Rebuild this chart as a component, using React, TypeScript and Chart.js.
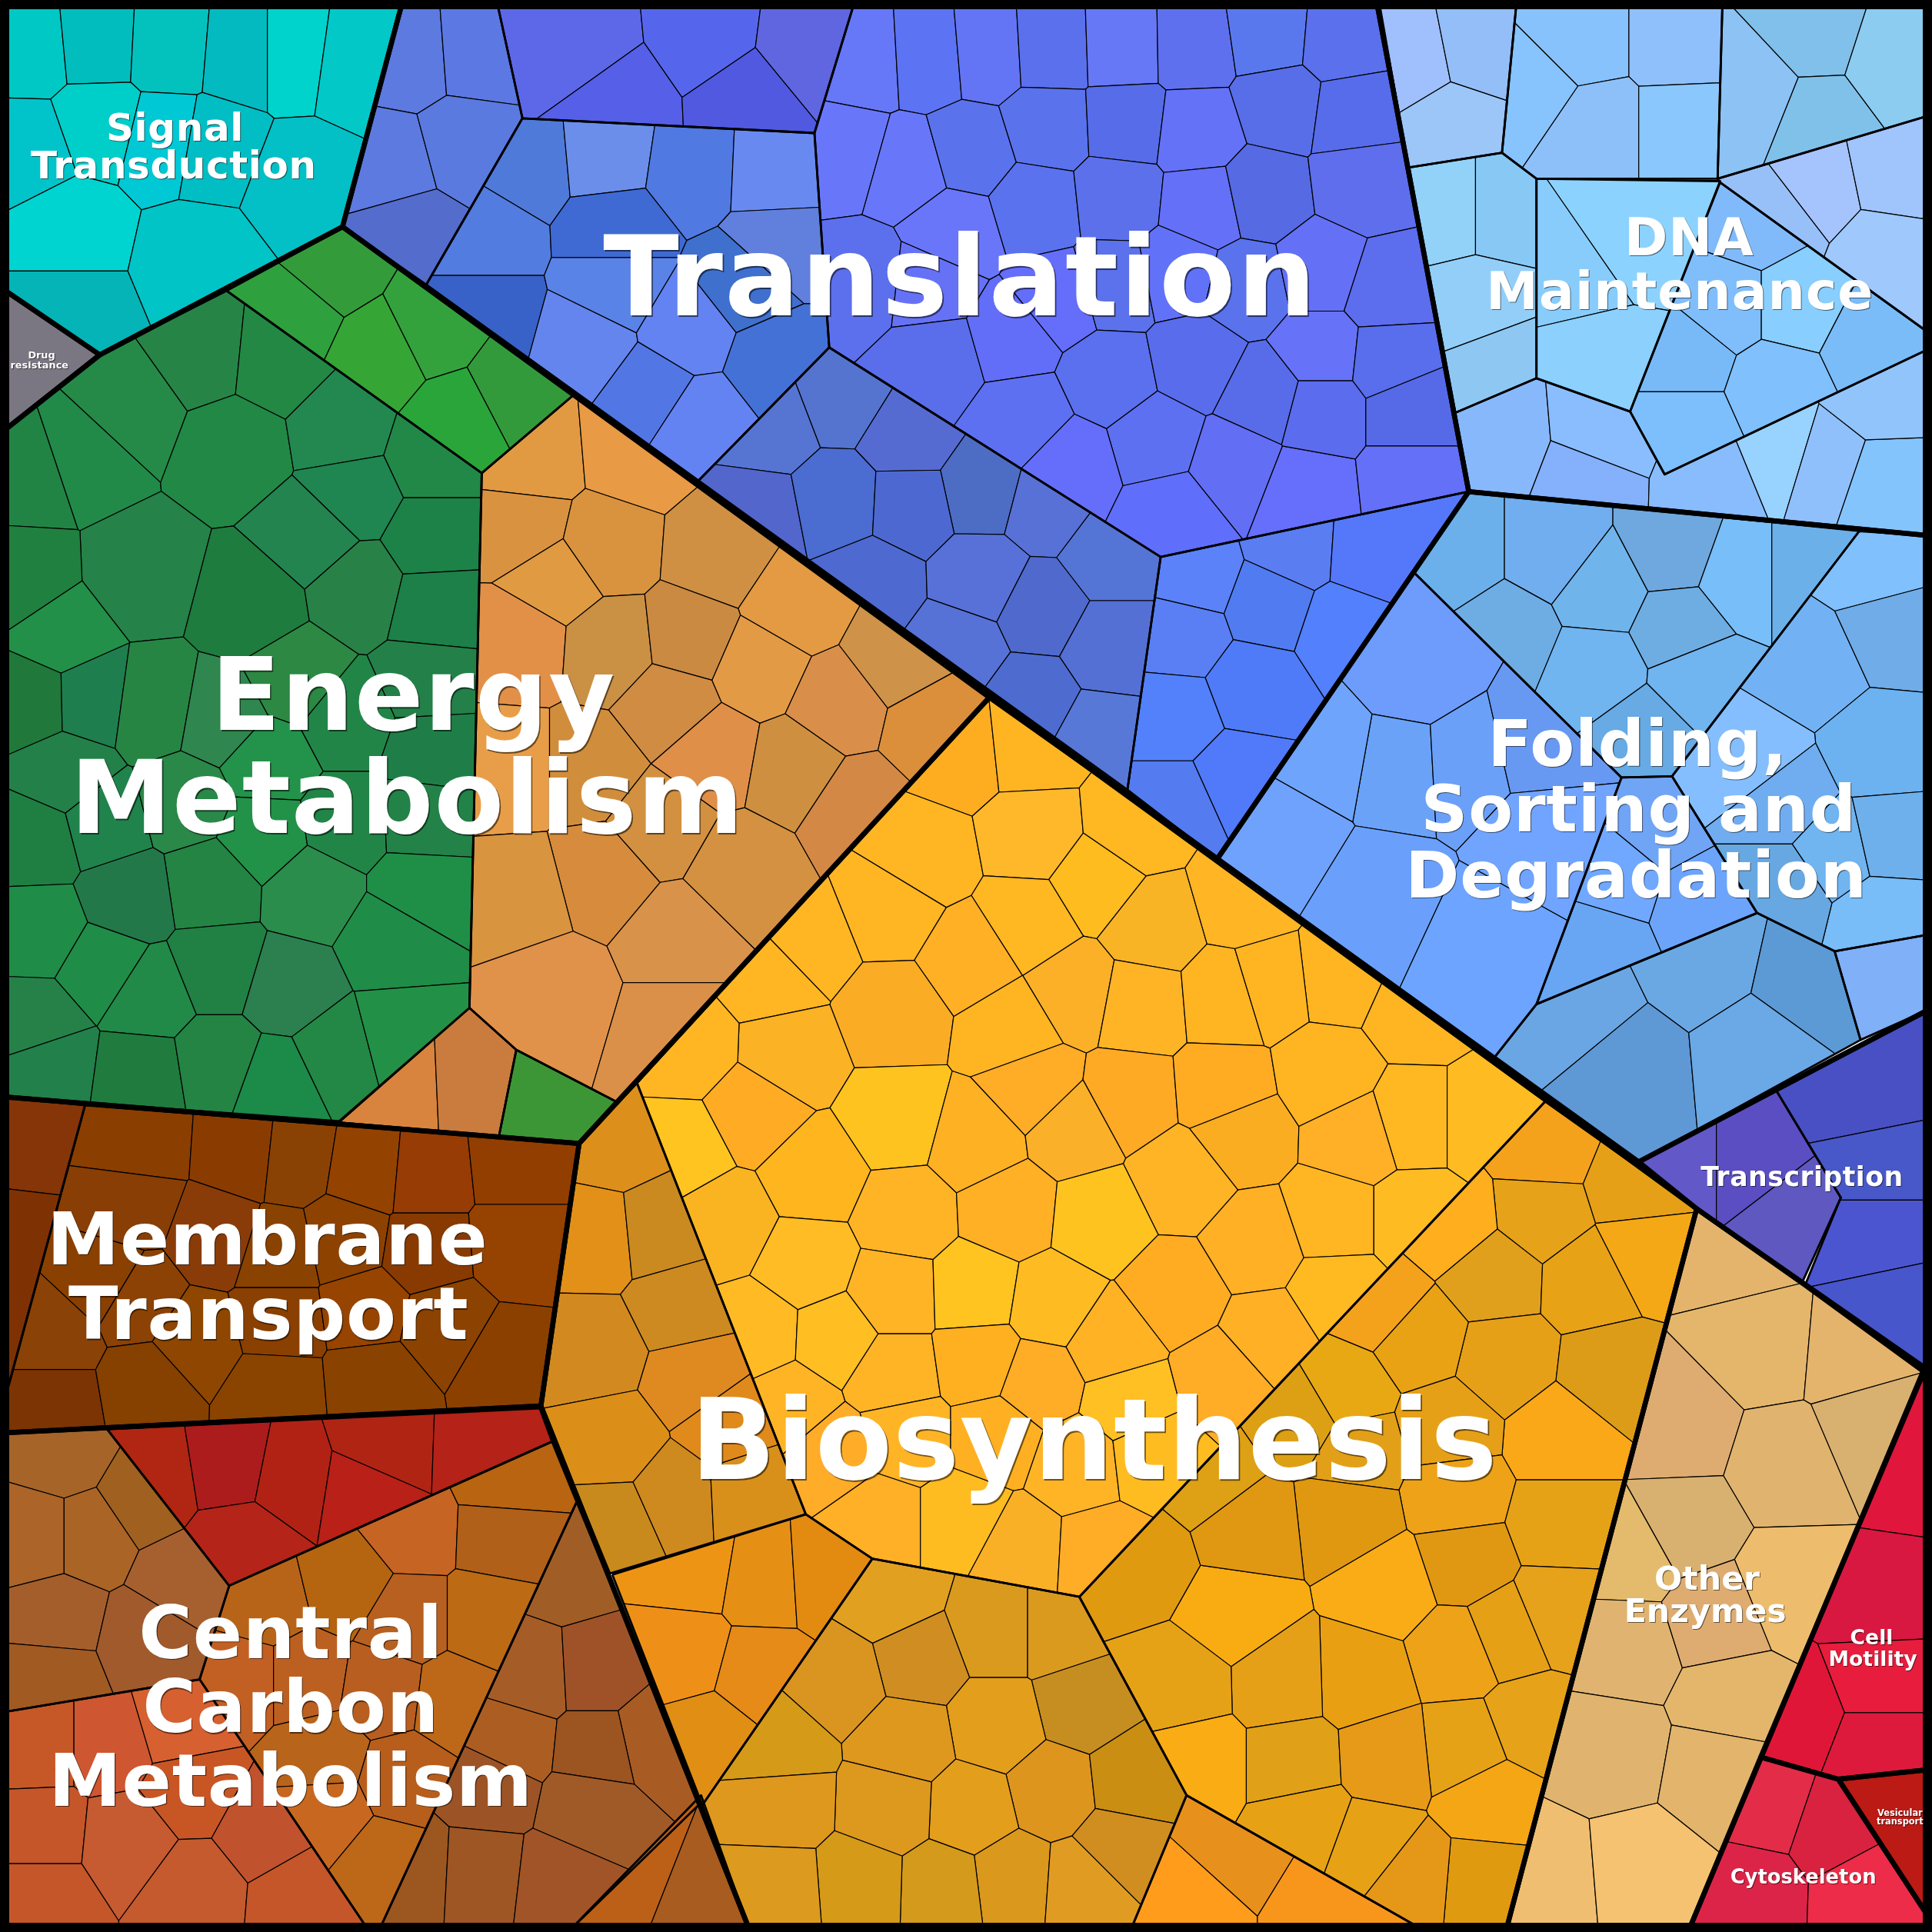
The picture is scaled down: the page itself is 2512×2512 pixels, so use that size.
import React, { useEffect, useRef } from "react";
import { Chart, registerables } from "chart.js";

Chart.register(...registerables);

type P = number[];

// ---- top-level categories (outlines, in map units 0..1568)
const signalPoly: P[] = [[0,0],[327,0],[278,184],[81,288],[0,233]];
const drugPoly: P[] = [[0,233],[81,288],[0,352]];
const translationPoly: P[] = [[327,0],[1117,0],[1192,399],[988,697],[278,184]];
const dnaPoly: P[] = [[1117,0],[1568,0],[1568,435],[1192,399]];
const foldingPoly: P[] = [[1192,399],[1568,435],[1568,818],[1330,943],[988,697]];
const transcriptionPoly: P[] = [[1330,943],[1568,818],[1568,1118],[1465,1043],[1377,981]];
const energyPoly: P[] = [[0,352],[81,288],[278,184],[803,566],[470,928],[0,890]];
const membranePoly: P[] = [[0,890],[470,928],[439,1141],[0,1163]];
const carbonPoly: P[] = [[0,1163],[439,1141],[609,1568],[0,1568]];
const biosynthesisPoly: P[] = [[803,566],[988,697],[1377,981],[1222,1568],[609,1568],[439,1141],[470,928]];
const otherPoly: P[] = [[1377,981],[1562,1110],[1370,1568],[1222,1568]];
const motilityPoly: P[] = [[1562,1112],[1568,1117],[1568,1436],[1492,1444],[1429,1426]];
const cytoskeletonPoly: P[] = [[1429,1426],[1492,1444],[1568,1560],[1568,1568],[1370,1568]];
const vesicularPoly: P[] = [[1492,1444],[1568,1436],[1568,1560]];

// ---- sub-groups: outline, cell centres, cell colours
const signalSites: P[] = [[25,40],[78,35],[137,38],[197,43],[237,43],[287,50],[23,120],[80,100],[133,113],[173,120],[243,147],[57,187],[160,210],[57,253]];
const signalColors = ["#00C8C4","#02BDBD","#03C2BE","#02BAC0","#00D2CC","#02C8C8","#00C4CA","#00CEC8","#00C8D4","#00BEC4","#02C0C6","#00D4D0","#00C4C6","#04B4B6"];

const drugSites: P[] = [[27,292]];
const drugColors = ["#7A7782"];

const t1Poly: P[] = [[327,0],[278,184],[346,231],[424,96],[403,0]];
const t1Sites: P[] = [[333,47],[387,43],[317,133],[377,117],[333,190]];
const t1Colors = ["#5D7AE0","#5C78E2","#5C7ADF","#5B7ADF","#546CCC"];

const t2Poly: P[] = [[403,0],[694,0],[661,108],[424,96]];
const t2Sites: P[] = [[470,40],[575,30],[652,40],[500,82],[607,77]];
const t2Colors = ["#5D68E8","#5666EC","#5F66E0","#555FE8","#5059E0"];

const t3Poly: P[] = [[424,96],[661,108],[673,282],[567,390],[346,231]];
const t3Sites: P[] = [[427,133],[493,127],[561,137],[628,140],[393,190],[500,185],[631,200],[604,230],[393,257],[500,233],[477,280],[557,267],[631,293],[527,317],[567,343]];
const t3Colors = ["#4F7ADA","#6A8EEA","#5079E2","#688AF0","#527CDF","#3F6AD4","#617FDC","#3F70CE","#3962C8","#5A83E8","#6585EE","#6383F2","#4471D5","#5277E5","#6483F3"];

const t4Poly: P[] = [[694,0],[1117,0],[1192,399],[942,452],[673,282],[661,108]];
const t4Sites: P[] = [[701,50],[754,47],[801,43],[853,40],[911,38],[968,37],[1030,28],[1088,33],[687,123],[737,137],[787,123],[851,103],[914,100],[971,107],[1040,85],[1098,93],[701,227],[774,187],[841,167],[907,160],[977,167],[1024,157],[1105,147],[754,233],[858,243],[905,230],[955,220],[1011,233],[1072,220],[1125,237],[761,290],[821,273],[901,307],[971,293],[1026,321],[1072,285],[1128,291],[831,340],[938,357],[869,377],[1001,377],[951,417],[1060,400],[1072,333],[1145,333],[1145,391]];
const t4Colors = ["#6678F8","#5C73F3","#6375F5","#5B70EC","#6678F5","#5F70EE","#5A78EE","#5A70EC","#6877FA","#6877FA","#5A72EC","#5A72EC","#566CE8","#6472F8","#586EE8","#566CEA","#5C70EE","#6A76FA","#5A72EE","#5C70EC","#6470F8","#566AE4","#5E6EEC","#6672F6","#646EFA","#5C72EC","#6272F8","#5A72EC","#6470F6","#5C6EEE","#5A6EEC","#626EF8","#5A70EE","#586CEC","#586CEA","#6672F8","#586EEC","#5E70F2","#5E70F2","#646EFA","#626EF4","#606EFC","#666EFC","#5C6CEE","#566AE8","#6470F8"];

const t5Poly: P[] = [[673,282],[942,452],[915,641],[567,390]];
const t5Sites: P[] = [[684,321],[624,344],[737,354],[798,397],[614,420],[681,407],[738,410],[848,410],[901,450],[707,473],[797,470],[844,494],[778,525],[901,525],[837,568],[892,598]];
const t5Colors = ["#5574CF","#5675D3","#566BD2","#4D6CC4","#5266CC","#4B6CD0","#4D69D1","#5871D6","#5474D6","#4E69D0","#5871D8","#4F6ACC","#5772D6","#5570D4","#4E6BD0","#5878D8"];

const t6Poly: P[] = [[942,452],[1192,399],[988,697],[915,641]];
const t6Sites: P[] = [[971,468],[1050,445],[1112,449],[960,515],[1030,490],[1090,510],[954,581],[1017,557],[954,654],[1005,631]];
const t6Colors = ["#5B82F8","#5A7DF2","#5578FA","#5A7FF4","#517BF0","#5380FC","#5380FB","#4F7BF8","#547BF0","#507AFA"];

const d1Poly: P[] = [[1119,0],[1231,0],[1219,124],[1143,136]];
const d1Sites: P[] = [[1148,50],[1198,40],[1178,100]];
const d1Colors = ["#A0BFFD","#93BEF8","#9CC5F8"];

const d2Poly: P[] = [[1231,0],[1398,0],[1394,145],[1247,145],[1219,124]];
const d2Sites: P[] = [[1244,70],[1281,33],[1363,33],[1294,104],[1366,104]];
const d2Colors = ["#87C3FC","#88C2FC","#90C0FC","#8DC0F9","#8AC7FC"];

const d3Poly: P[] = [[1398,0],[1568,0],[1568,93],[1394,145]];
const d3Sites: P[] = [[1426,74],[1473,30],[1476,94],[1535,50]];
const d3Colors = ["#8CC2F4","#80C0EA","#80C1EA","#8CCCF0"];

const d4Poly: P[] = [[1394,145],[1568,93],[1568,272],[1396,148]];
const d4Sites: P[] = [[1472,154],[1446,174],[1539,140],[1529,207]];
const d4Colors = ["#A5C3FC","#98C0F8","#A0C4FC","#9FC8FC"];

const d5Poly: P[] = [[1143,136],[1219,124],[1247,145],[1247,307],[1181,335]];
const d5Sites: P[] = [[1178,167],[1217,167],[1198,251],[1214,294]];
const d5Colors = ["#93D2F8","#88C8F4","#93CEF8","#8EC8F2"];

const d6Poly: P[] = [[1247,145],[1396,147],[1323,334],[1247,307]];
const d6Sites: P[] = [[1313,187],[1274,214],[1294,300]];
const d6Colors = ["#8CD2FE","#88CCFC","#8CD0FE"];

const d7Poly: P[] = [[1396,148],[1568,272],[1568,282],[1351,385],[1323,334]];
const d7Sites: P[] = [[1423,180],[1400,247],[1459,247],[1367,288],[1443,314],[1367,348],[1519,278]];
const d7Colors = ["#80BAFA","#7FBEFA","#88CEFE","#78BAF8","#80C0FC","#7DBFFC","#7ABCF8"];

const d8Poly: P[] = [[1181,335],[1247,307],[1323,334],[1351,385],[1568,282],[1568,435],[1192,399]];
const d8Sites: P[] = [[1217,361],[1300,354],[1287,388],[1390,391],[1446,368],[1479,378],[1529,395],[1526,318]];
const d8Colors = ["#88B8FC","#8ABDFE","#84B0FC","#88BCFC","#98D2FE","#90C0FC","#84C4FC","#92C4FC"];

const f1Poly: P[] = [[1192,399],[1509,431],[1357,630],[1316,631],[1148,465]];
const f1Sites: P[] = [[1181,448],[1261,448],[1357,448],[1413,468],[1463,468],[1224,515],[1300,478],[1363,508],[1294,544],[1380,551],[1333,598]];
const f1Colors = ["#6BB0EA","#70AEF0","#6EA8DE","#78BEF8","#6CB0EA","#6EADE4","#70B4EC","#6EADE2","#70B4F0","#70B4F0","#68AAE4"];

const f2Poly: P[] = [[1509,431],[1568,435],[1568,758],[1489,772],[1426,741],[1357,630]];
const f2Sites: P[] = [[1522,461],[1470,540],[1535,510],[1526,608],[1423,618],[1446,648],[1492,691],[1532,682],[1528,742],[1446,722]];
const f2Colors = ["#80C0FC","#72B2F4","#70ACE8","#6CB2F0","#84BEFE","#70ADF0","#70B4F0","#6EB0EC","#78BCF8","#68A8E2"];

const f3Poly: P[] = [[1148,465],[1316,631],[1247,815],[1213,858],[988,697]];
const f3Sites: P[] = [[1148,548],[1135,621],[1079,611],[1190,618],[1247,605],[1040,680],[1118,728],[1204,768],[1254,678]];
const f3Colors = ["#6D9CFC","#6AA2F8","#6EA4FC","#6AA0F8","#6899F2","#6FA2FC","#6AA0FC","#6CA4FF","#70A4FF"];

const f4Poly: P[] = [[1316,631],[1357,630],[1426,741],[1247,815]];
const f4Sites: P[] = [[1347,671],[1380,732],[1314,711],[1297,768]];
const f4Colors = ["#70A4F4","#6CA4FC","#70A8FF","#68A6F4"];

const f5Poly: P[] = [[1247,815],[1426,741],[1489,772],[1510,844],[1330,943],[1213,858]];
const f5Sites: P[] = [[1283,825],[1380,778],[1470,798],[1316,865],[1429,855]];
const f5Colors = ["#6BA6E4","#6AA8E4","#5C9AD6","#5E99D6","#6AA8E6"];

const f6Poly: P[] = [[1489,772],[1568,758],[1568,818],[1510,844]];
const f6Sites: P[] = [[1530,800]];
const f6Colors = ["#80B0F8"];

const tr1Poly: P[] = [[1330,943],[1441,884],[1494,972],[1463,1040],[1377,981]];
const tr1Sites: P[] = [[1363,939],[1423,939],[1459,986]];
const tr1Colors = ["#6258C8","#5A4EC2","#5E58C0"];

const tr2Poly: P[] = [[1441,884],[1568,818],[1568,1118],[1465,1043],[1494,972]];
const tr2Sites: P[] = [[1502,895],[1512,945],[1512,1003],[1525,1065]];
const tr2Colors = ["#4850C4","#4858C8","#4C55D0","#4856CC"];

const e1Poly: P[] = [[278,185],[465,321],[391,384],[184,236]];
const e1Sites: P[] = [[267,217],[237,253],[310,287],[350,267],[417,317],[373,340]];
const e1Colors = ["#339B3A","#2EA03E","#35A535","#34A23C","#339A3C","#2AA53A"];

const e2Poly: P[] = [[81,288],[184,236],[391,384],[381,818],[276,910],[0,890],[0,352]];
const e2Sites: P[] = [[105,330],[164,288],[224,294],[67,371],[25,385],[190,362],[278,348],[351,371],[287,401],[351,437],[254,435],[113,466],[20,470],[205,490],[291,477],[354,492],[50,515],[27,568],[73,567],[124,574],[180,584],[241,551],[348,554],[281,584],[351,608],[217,618],[30,682],[53,628],[84,668],[150,651],[214,678],[281,668],[344,665],[171,718],[104,728],[254,722],[341,722],[318,762],[33,755],[84,785],[177,785],[234,802],[120,808],[30,832],[40,862],[114,872],[177,862],[224,879],[274,855],[324,842]];
const e2Colors = ["#258A48","#268447","#238844","#218A48","#218444","#218845","#228850","#228847","#1F8551","#1C8248","#238450","#258248","#20803F","#1E7C3E","#288248","#1C8048","#229048","#20783A","#1F7E4E","#278544","#2F864E","#2C8842","#238048","#228548","#1F7E47","#23924A","#1F7E42","#238048","#20834C","#2A8848","#229248","#228548","#238248","#238444","#23784A","#2B8D4B","#1F8F48","#1F8C48","#1F8C48","#1F8C48","#218044","#2C7F4E","#218A48","#258148","#22804A","#1F7C3E","#238444","#1C8A48","#238845","#239048"];

const e3Poly: P[] = [[391,384],[465,321],[803,566],[500,894],[419,852],[381,818]];
const e3Sites: P[] = [[431,375],[515,368],[425,428],[451,470],[490,443],[585,450],[645,490],[728,535],[422,520],[495,525],[560,518],[545,572],[615,542],[680,572],[578,610],[645,622],[758,590],[695,655],[414,625],[478,625],[601,708],[490,710],[535,670],[421,728],[448,805],[550,760],[550,835]];
const e3Colors = ["#E29A42","#E89A44","#D99340","#E09A42","#D9933E","#CF9044","#E39A42","#CE9248","#E29048","#CA9044","#CA8A42","#D08C42","#E39A45","#D98F49","#DF8F48","#CE9040","#DB8F3B","#D38845","#E89E48","#D08E3C","#D49142","#D68C3C","#D29040","#D99440","#E0924A","#D9924A","#DA9048"];

const e4Poly: P[] = [[381,818],[419,852],[405,922],[274,911]];
const e4Sites: P[] = [[320,875],[388,872]];
const e4Colors = ["#D8843E","#CA7C3E"];

const e5Poly: P[] = [[419,852],[500,894],[470,928],[405,922]];
const e5Sites: P[] = [[445,895]];
const e5Colors = ["#3D9635"];

const m1Poly: P[] = [[0,890],[69,897],[0,1150]];
const m1Sites: P[] = [[33,925],[23,1010]];
const m1Colors = ["#853508","#7E3204"];

const m2Poly: P[] = [[69,897],[470,928],[439,1141],[0,1163],[0,1150]];
const m2Sites: P[] = [[110,929],[200,935],[237,939],[300,949],[344,953],[421,945],[104,976],[177,1003],[85,1040],[225,1018],[281,1006],[344,1016],[421,1010],[43,1085],[110,1055],[160,1088],[225,1072],[298,1062],[360,1075],[411,1105],[43,1138],[119,1125],[222,1128],[305,1121]];
const m2Colors = ["#8A3E00","#8A3C00","#8A4204","#944200","#963C04","#923E00","#883E04","#8A3C08","#8A4000","#8A4200","#8E4200","#883A00","#964200","#8A4206","#8C4204","#8E4600","#8A4000","#964400","#8C4200","#8C4000","#7C3404","#864000","#8A4400","#8A4200"];

const c1Poly: P[] = [[87,1160],[438,1143],[448,1170],[186,1287]];
const c1Sites: P[] = [[124,1198],[187,1188],[237,1198],[294,1207],[308,1175],[395,1178],[197,1254]];
const c1Colors = ["#B02612","#AC1C1C","#B22214","#B82018","#B02414","#B42218","#B42418"];

const c2Poly: P[] = [[0,1163],[87,1160],[186,1287],[162,1363],[0,1390]];
const c2Sites: P[] = [[50,1178],[30,1247],[74,1247],[117,1218],[47,1314],[147,1280],[43,1360],[117,1330]];
const c2Colors = ["#A66428","#AC6428","#AA6426","#A06020","#A45E2C","#A66030","#A05A22","#A05A2C"];

const c3Poly: P[] = [[0,1390],[162,1363],[300,1568],[0,1568]];
const c3Sites: P[] = [[30,1416],[90,1416],[144,1400],[33,1486],[154,1453],[104,1493],[33,1539],[157,1532],[214,1486],[244,1539]];
const c3Colors = ["#C65828","#CE5630","#D66030","#C4562A","#C85624","#C65A30","#C4562A","#C45A2E","#C0522E","#C4562A"];

const c4Poly: P[] = [[186,1287],[448,1170],[468,1219],[307,1568],[300,1568],[162,1363]];
const c4Sites: P[] = [[214,1300],[281,1284],[334,1241],[411,1204],[408,1244],[331,1314],[395,1314],[197,1363],[247,1363],[311,1373],[368,1380],[261,1423],[328,1443],[264,1473],[311,1512]];
const c4Colors = ["#B86418","#B56410","#C66424","#B86410","#B06018","#B86020","#BC6A14","#C26024","#BC6022","#B85E20","#BC6818","#B8641A","#B85E1C","#C86820","#BC6818"];

const c5Poly: P[] = [[468,1219],[569,1463],[461,1568],[307,1568]];
const c5Sites: P[] = [[461,1274],[431,1360],[485,1357],[415,1413],[530,1410],[485,1420],[478,1466],[398,1449],[334,1519],[391,1522],[451,1529]];
const c5Colors = ["#A05E26","#A65C26","#9F5228","#AC5E22","#A85C24","#9C5420","#A05A28","#9C5426","#9C5620","#9E5624","#A05428"];

const c6Poly: P[] = [[461,1568],[569,1457],[609,1568]];
const c6Sites: P[] = [[519,1503],[575,1525]];
const c6Colors = ["#BC6018","#A85C20"];

const b1Poly: P[] = [[803,566],[1254,894],[876,1296],[708,1265],[654,1229],[517,879]];
const b1Sites: P[] = [[779,611],[835,605],[748,695],[839,678],[919,671],[889,715],[835,748],[722,738],[788,778],[655,765],[725,822],[872,805],[822,835],[936,752],[1009,731],[925,815],[996,809],[627,792],[640,855],[558,852],[611,902],[728,909],[839,882],[916,892],[993,886],[554,932],[661,953],[792,926],[872,916],[959,956],[1006,919],[735,986],[819,982],[892,989],[588,992],[655,1026],[725,1050],[791,1048],[854,1058],[954,1050],[1020,1010],[1088,792],[1029,799],[1148,819],[1078,872],[1145,909],[1204,909],[1102,922],[1082,989],[1148,989],[1085,1050],[615,1082],[678,1085],[725,1115],[795,1105],[902,1090],[842,1122],[916,1138],[993,1118],[1030,1085],[641,1141],[735,1165],[808,1165],[875,1188],[935,1181],[675,1181],[712,1234],[782,1234],[825,1257],[895,1261]];
const b1Colors = ["#FFAD20","#FFB522","#FFB622","#FFB82A","#FFB722","#FFBC1E","#FFB722","#FFB622","#FFB025","#FFB622","#FAAC25","#FBB028","#FFB522","#F8B425","#FFB524","#FFB426","#FFB522","#FFB622","#FBB224","#FFB622","#FFAC24","#FFC320","#FFAC26","#FFAA24","#FFAC22","#FFC420","#FFB51E","#FFB124","#FAB028","#FFB426","#FBAD22","#FFB426","#FFB024","#FFC320","#FAB422","#FFBC24","#FFB426","#FFC420","#FFBC22","#FFAC22","#FFB024","#FFB522","#FFB522","#FFB522","#FFB422","#FFB822","#FFBC22","#FFB026","#FFB622","#FFBC22","#FFBA22","#FFBA24","#FFBE22","#FFB426","#FFB020","#FFB224","#FFAC26","#FFC024","#FFAC26","#FFB024","#FFB426","#FFB426","#FFB022","#FFB426","#FFBC20","#FFAC28","#FFB026","#FFBC20","#F9B026","#FFAC26"];

const b2Poly: P[] = [[517,879],[654,1229],[495,1277],[439,1141],[470,928]];
const b2Sites: P[] = [[500,925],[484,1005],[535,1000],[482,1095],[552,1060],[565,1120],[497,1172],[590,1155],[500,1235],[547,1214],[608,1211]];
const b2Colors = ["#DC8F1A","#E29018","#CA8A20","#D28A20","#CC8A20","#DF8A20","#DC8F18","#E08A1C","#C88A1C","#CE8A1E","#D8901A"];

const b3Poly: P[] = [[497,1278],[654,1229],[708,1265],[570,1465]];
const b3Sites: P[] = [[561,1274],[621,1284],[668,1281],[554,1340],[618,1357],[574,1413]];
const b3Colors = ["#EE9414","#E59014","#E38A10","#EE9018","#E68A18","#E08E14"];

const b4Poly: P[] = [[708,1265],[876,1296],[963,1457],[917,1568],[609,1568],[570,1465]];
const b4Sites: P[] = [[722,1297],[809,1323],[859,1323],[745,1347],[682,1363],[879,1383],[809,1400],[735,1413],[631,1420],[855,1453],[919,1446],[788,1469],[722,1466],[634,1463],[909,1499],[822,1525],[879,1529],[765,1532],[698,1530],[631,1535]];
const b4Colors = ["#E2A020","#D99A1E","#DA9A1E","#D08E22","#D99520","#C68E20","#E39E1C","#DE981E","#D49A18","#DD951E","#CA8E12","#E39E1C","#DD981E","#DE981E","#D08E20","#DA981C","#E09C22","#D49A1C","#D49A18","#DC9A1E"];

const b5Poly: P[] = [[963,1457],[1158,1568],[917,1568]];
const b5Sites: P[] = [[1005,1502],[966,1545],[1075,1545]];
const b5Colors = ["#E8901C","#FF9C1C","#F8961C"];

const b6Poly: P[] = [[1254,894],[1377,981],[1222,1568],[1158,1568],[963,1457],[876,1296]];
const b6Sites: P[] = [[1254,932],[1251,986],[1327,962],[1178,993],[1333,1016],[1213,1035],[1290,1038],[1120,1060],[1221,1105],[1151,1088],[1307,1115],[1092,1128],[1267,1165],[1174,1158],[1055,1150],[1102,1178],[1181,1214],[1267,1237],[1095,1231],[1188,1267],[1264,1307],[1128,1287],[1002,1310],[926,1267],[1012,1240],[982,1200],[1184,1340],[1105,1363],[1040,1365],[1221,1325],[1241,1400],[1191,1419],[959,1367],[973,1430],[1050,1430],[1125,1426],[1211,1459],[1060,1480],[1112,1499],[1204,1530],[1145,1525]];
const b6Colors = ["#F4A21C","#E6A218","#E6A018","#FFAE1E","#F4A815","#E0A01C","#E8A216","#F4A21C","#E6A018","#E8A214","#DD9C18","#E8A814","#FAA818","#E6A018","#DDA014","#E2A018","#EDA218","#E6A216","#E09810","#E09812","#E6A21A","#FAAC16","#F8AC12","#E09A10","#E09812","#DEA014","#EEA218","#E8A012","#E6A018","#E6A016","#E6A218","#E6A216","#E6A216","#FAAC14","#E0A018","#E69A18","#F4A614","#E6A214","#E6A214","#E09A10","#E59818"];

const otherSites: P[] = [[1413,1010],[1433,1092],[1502,1098],[1363,1161],[1519,1158],[1449,1188],[1366,1237],[1323,1261],[1452,1290],[1320,1337],[1393,1314],[1406,1380],[1307,1420],[1396,1436],[1257,1525],[1330,1519]];
const otherColors = ["#E4B46C","#E4B66C","#E4B46C","#DEAC70","#D8B070","#E0B46E","#D8B070","#E4BA6C","#EDBC6C","#E0B470","#DEAC70","#E4B66C","#E0B46E","#E2B46C","#F0BE70","#F4C270"];

const motilitySites: P[] = [[1535,1188],[1519,1297],[1522,1367],[1463,1390],[1522,1413]];
const motilityColors = ["#E0163C","#D81840","#E81C3C","#E01638","#DE1A3C"];

const cytoskeletonSites: P[] = [[1436,1469],[1486,1486],[1423,1532],[1512,1535]];
const cytoskeletonColors = ["#E22C48","#D82240","#DC2448","#EC2C48"];

const vesicularSites: P[] = [[1540,1470]];
const vesicularColors = ["#BC1A14"];

// ---- labels: text, centre x, baseline y, font size px, letter spacing px
const labels: [string, number, number, number, number][] = [
  ["Signal", 142, 114, 50, 0.6],
  ["Transduction", 141, 145, 50, 0.6],
  ["Drug", 33.7, 291, 12.8, 0],
  ["resistance", 32, 299, 12.8, 0.1],
  ["Translation", 779.5, 256, 144.5, 1.9],
  ["DNA", 1371, 207, 68, 1],
  ["Maintenance", 1363.5, 251, 68, 1],
  ["Folding,", 1329, 621.5, 84.5, 0.8],
  ["Sorting and", 1330, 675, 84.5, 0.8],
  ["Degradation", 1328, 728.5, 84.5, 0.8],
  ["Energy", 335.5, 592.5, 132, 1.1],
  ["Metabolism", 330.5, 676, 132, 1.1],
  ["Membrane", 217, 1026, 94.7, 0.8],
  ["Transport", 218, 1087, 94.7, 0.8],
  ["Central", 236, 1346, 95, 0.7],
  ["Carbon", 236, 1406, 95, 0.7],
  ["Metabolism", 236, 1465.5, 95, 0.7],
  ["Biosynthesis", 888, 1200.5, 145.6, 0.7],
  ["Transcription", 1462.5, 962.5, 34.7, 0.5],
  ["Other", 1385.5, 1290, 42.7, 0],
  ["Enzymes", 1384, 1316.5, 42.7, 0],
  ["Cell", 1519, 1334.5, 26.7, 0],
  ["Motility", 1520, 1352, 26.7, 0],
  ["Cytoskeleton", 1463.5, 1528.5, 25.8, 0],
  ["Vesicular", 1542, 1474, 11.4, 0],
  ["transport", 1542, 1480.5, 11.4, 0],
];

const groups: [P[], P[], string[]][] = [
  [signalPoly, signalSites, signalColors],
  [drugPoly, drugSites, drugColors],
  [t1Poly, t1Sites, t1Colors], [t2Poly, t2Sites, t2Colors], [t3Poly, t3Sites, t3Colors],
  [t4Poly, t4Sites, t4Colors], [t5Poly, t5Sites, t5Colors], [t6Poly, t6Sites, t6Colors],
  [d1Poly, d1Sites, d1Colors], [d2Poly, d2Sites, d2Colors], [d3Poly, d3Sites, d3Colors], [d4Poly, d4Sites, d4Colors],
  [d5Poly, d5Sites, d5Colors], [d6Poly, d6Sites, d6Colors], [d7Poly, d7Sites, d7Colors], [d8Poly, d8Sites, d8Colors],
  [f1Poly, f1Sites, f1Colors], [f2Poly, f2Sites, f2Colors], [f3Poly, f3Sites, f3Colors],
  [f4Poly, f4Sites, f4Colors], [f5Poly, f5Sites, f5Colors], [f6Poly, f6Sites, f6Colors],
  [tr1Poly, tr1Sites, tr1Colors], [tr2Poly, tr2Sites, tr2Colors],
  [e1Poly, e1Sites, e1Colors], [e2Poly, e2Sites, e2Colors], [e3Poly, e3Sites, e3Colors], [e4Poly, e4Sites, e4Colors], [e5Poly, e5Sites, e5Colors],
  [m1Poly, m1Sites, m1Colors], [m2Poly, m2Sites, m2Colors],
  [c1Poly, c1Sites, c1Colors], [c2Poly, c2Sites, c2Colors], [c3Poly, c3Sites, c3Colors],
  [c4Poly, c4Sites, c4Colors], [c5Poly, c5Sites, c5Colors], [c6Poly, c6Sites, c6Colors],
  [b1Poly, b1Sites, b1Colors], [b2Poly, b2Sites, b2Colors], [b3Poly, b3Sites, b3Colors],
  [b4Poly, b4Sites, b4Colors], [b5Poly, b5Sites, b5Colors], [b6Poly, b6Sites, b6Colors],
  [otherPoly, otherSites, otherColors],
  [motilityPoly, motilitySites, motilityColors],
  [cytoskeletonPoly, cytoskeletonSites, cytoskeletonColors],
  [vesicularPoly, vesicularSites, vesicularColors],
];

const categories: P[][] = [signalPoly, drugPoly, translationPoly, dnaPoly, foldingPoly, transcriptionPoly, energyPoly, membranePoly, carbonPoly, biosynthesisPoly, otherPoly, motilityPoly, cytoskeletonPoly, vesicularPoly];
const pageFrame: P[] = [[0,0],[1568,0],[1568,1568],[0,1568]];

// keep the part of a polygon nearer to site a than to site b
function clipNearer(poly: P[], a: P, b: P): P[] {
  const mx = (a[0] + b[0]) / 2, my = (a[1] + b[1]) / 2;
  const nx = b[0] - a[0], ny = b[1] - a[1];
  const side = (p: P) => (p[0] - mx) * nx + (p[1] - my) * ny;
  const out: P[] = [];
  for (let i = 0; i < poly.length; i++) {
    const p = poly[i], q = poly[(i + 1) % poly.length];
    const sp = side(p), sq = side(q);
    if (sp <= 0) out.push(p);
    if ((sp < 0 && sq > 0) || (sp > 0 && sq < 0)) {
      const t = sp / (sp - sq);
      out.push([p[0] + t * (q[0] - p[0]), p[1] + t * (q[1] - p[1])]);
    }
  }
  return out;
}

const closed = (poly: P[]) => [...poly, poly[0]].map((p) => ({ x: p[0], y: p[1] }));

function buildDatasets() {
  const cells: any[] = [];
  const groupLines: any[] = [];
  for (const [poly, sites, colors] of groups) {
    sites.forEach((s, i) => {
      let cell = poly;
      sites.forEach((o, j) => {
        if (j !== i && cell.length) cell = clipNearer(cell, s, o);
      });
      if (cell.length > 2) {
        cells.push({
          data: closed(cell),
          showLine: true,
          fill: "shape",
          backgroundColor: colors[i] || colors[0],
          borderColor: "#000000",
          borderWidth: 1.2,
          borderJoinStyle: "round",
          pointRadius: 0,
          tension: 0,
        });
      }
    });
    groupLines.push({ data: closed(poly), showLine: true, fill: false, borderColor: "#000000", borderWidth: 2.8, borderJoinStyle: "round", pointRadius: 0, tension: 0 });
  }
  const catLines = categories.map((poly) => ({ data: closed(poly), showLine: true, fill: false, borderColor: "#000000", borderWidth: 6.5, borderJoinStyle: "round", pointRadius: 0, tension: 0 }));
  const frame = { data: closed(pageFrame), showLine: true, fill: false, borderColor: "#000000", borderWidth: 24, borderJoinStyle: "miter", pointRadius: 0, tension: 0 };
  // Chart.js paints dataset 0 last, so the list runs from top to bottom
  return [frame, ...catLines, ...groupLines, ...cells.reverse()];
}

const labelPlugin = {
  id: "cellLabels",
  afterDatasetsDraw(chart: any) {
    const { ctx, scales } = chart;
    ctx.save();
    ctx.textAlign = "center";
    ctx.textBaseline = "alphabetic";
    for (const [text, x, y, size, spacing] of labels) {
      const px = scales.x.getPixelForValue(x);
      const py = scales.y.getPixelForValue(y);
      ctx.font = `bold ${size}px "DejaVu Sans"`;
      ctx.letterSpacing = `${spacing}px`;
      const off = Math.max(1, size * 0.012);
      ctx.fillStyle = "rgba(0,0,0,0.55)";
      ctx.fillText(text, px + off, py + off);
      ctx.fillStyle = "#FFFFFF";
      ctx.fillText(text, px, py);
    }
    ctx.restore();
  },
};

export default function App() {
  const ref = useRef<HTMLCanvasElement>(null);
  useEffect(() => {
    document.body.style.margin = "0";
    const chart = new Chart(ref.current as HTMLCanvasElement, {
      type: "scatter",
      data: { datasets: buildDatasets() as any },
      options: {
        animation: false,
        responsive: false,
        devicePixelRatio: 1,
        layout: { padding: 0 },
        plugins: { legend: { display: false }, tooltip: { enabled: false }, title: { display: false } },
        scales: {
          x: { type: "linear", min: 0, max: 1568, display: false },
          y: { type: "linear", min: 0, max: 1568, reverse: true, display: false },
        },
      } as any,
      plugins: [labelPlugin],
    });
    return () => chart.destroy();
  }, []);
  return <canvas ref={ref} width={2512} height={2512} style={{ display: "block", width: 2512, height: 2512 }} />;
}
